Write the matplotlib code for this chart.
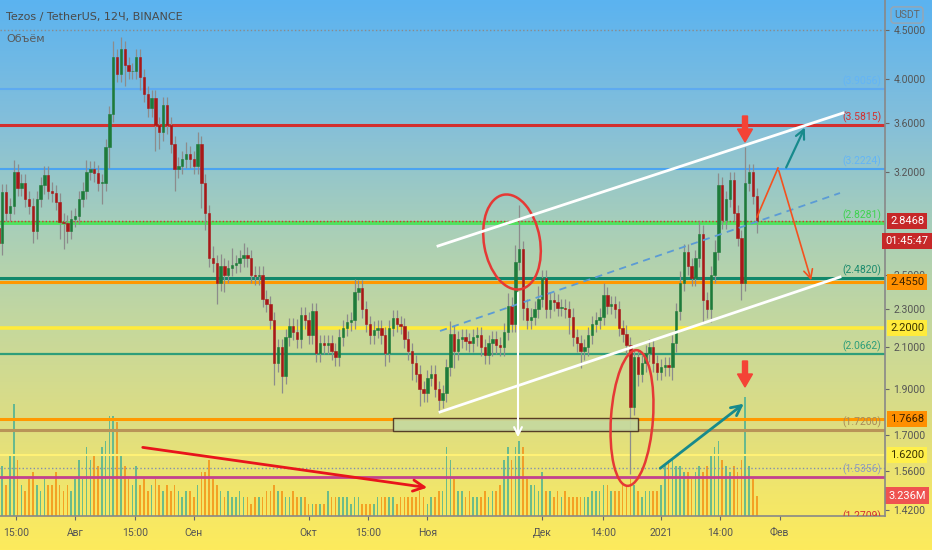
import numpy as np
import matplotlib
matplotlib.use('Agg')
import matplotlib.pyplot as plt
from matplotlib import patches, transforms
from matplotlib.colors import LinearSegmentedColormap
from matplotlib.ticker import FixedLocator, NullLocator, FuncFormatter

# дневные свечи начиная с 12 июля 2020 (день 0)
closes = [
    2.70, 3.05, 2.90, 2.95, 3.20, 3.08, 3.12, 3.00, 2.95, 2.78,
    3.00, 3.10, 3.18, 3.06, 3.04, 2.98, 2.84, 2.83, 2.78, 2.86,
    2.88, 3.00, 3.06, 3.20, 3.22, 3.19, 3.12, 3.12, 3.40, 3.68,
    4.22, 4.05, 4.30, 4.14, 4.08, 4.08, 4.22, 4.02, 3.86, 3.73,
    3.82, 3.58, 3.52, 3.76, 3.58, 3.42, 3.22, 3.25, 3.30, 3.34,
    3.30, 3.25, 3.42, 3.12, 2.90, 2.60, 2.57, 2.45, 2.55, 2.50,
    2.54, 2.56, 2.57, 2.60, 2.62, 2.60, 2.50, 2.49, 2.50, 2.36,
    2.33, 2.24, 2.02, 2.10, 1.96, 2.15, 2.21, 2.18, 2.14, 2.27,
    2.24, 2.16, 2.29, 2.07, 2.12, 2.11, 2.12, 2.08, 2.05, 2.15,
    2.20, 2.23, 2.24, 2.40, 2.42, 2.30, 2.22, 2.16, 2.19, 2.20,
    2.16, 2.07, 2.20, 2.25, 2.22, 2.21, 2.14, 2.08, 2.02, 1.97,
    1.90, 1.88, 1.95, 1.97, 1.90, 1.85, 1.88, 2.00, 2.17, 2.08,
    2.14, 2.15, 2.13, 2.12, 2.15, 2.16, 2.10, 2.06, 2.12, 2.14,
    2.11, 2.10, 2.18, 2.32, 2.22, 2.58, 2.66, 2.31, 2.24, 2.26,
    2.30, 2.36, 2.48, 2.30, 2.35, 2.34, 2.31, 2.31, 2.30, 2.26,
    2.15, 2.12, 2.08, 2.10, 2.16, 2.22, 2.24, 2.26, 2.38, 2.32,
    2.33, 2.30, 2.20, 2.17, 2.11, 1.82, 2.05, 1.97, 2.02, 2.07,
    2.10, 2.02, 1.98, 2.00, 2.01, 2.00, 2.12, 2.29, 2.45, 2.64,
    2.55, 2.48, 2.60, 2.76, 2.35, 2.30, 2.50, 2.64, 3.10, 2.85,
    3.00, 3.14, 2.90, 2.73, 2.45, 3.12, 3.20, 3.02, 2.8468,
]
first_open = 2.80

# тени свечей, в процентах
wick_up = [
    2, 2, 2, 2, 3, 2, 2, 2, 2, 2,
    2, 2, 2, 2, 2, 2, 2, 2, 2, 2,
    2, 2, 2, 3, 2, 2, 2, 2, 2, 2,
    4, 2, 3, 2, 2, 2, 2, 2, 2, 2,
    2, 2, 2, 2, 2, 2, 2, 2, 2, 3,
    2, 2, 3, 2, 2, 2, 3, 2, 3, 2,
    2, 4, 2, 2, 3, 2, 2, 2, 2, 2,
    2, 2, 2, 2, 2, 2, 2, 2, 3, 2,
    2, 2, 2, 2, 2, 2, 2, 2, 2, 2,
    2, 2, 2, 3, 2, 2, 2, 2, 2, 2,
    2, 2, 2, 2, 2, 2, 2, 2, 2, 2,
    2, 2, 2, 2, 2, 2, 2, 2, 3, 2,
    2, 2, 2, 2, 2, 2, 2, 2, 2, 2,
    2, 2, 2, 3, 2, 4, 11, 2, 2, 2,
    2, 3, 2, 2, 2, 2, 2, 2, 2, 2,
    2, 2, 2, 2, 2, 2, 2, 2, 3, 2,
    2, 2, 2, 2, 2, 2, 2, 2, 2, 2,
    2, 2, 2, 2, 2, 2, 2, 2, 3, 2,
    2, 2, 2, 3, 2, 2, 2, 3, 3, 2,
    2, 2, 2, 2, 2, 9, 2, 2, 2,
]
wick_dn = [
    5, 3, 2, 2, 2, 2, 2, 2, 2, 3,
    2, 2, 2, 2, 2, 2, 4, 6, 3, 2,
    2, 2, 2, 2, 2, 2, 2, 5, 2, 5,
    2, 2, 2, 5, 2, 2, 2, 3, 2, 2,
    2, 6, 4, 2, 2, 2, 5, 2, 2, 2,
    2, 2, 2, 6, 4, 2, 2, 5, 2, 4,
    2, 2, 2, 2, 2, 2, 2, 2, 2, 2,
    2, 2, 5, 2, 4, 2, 2, 2, 2, 2,
    2, 2, 2, 2, 2, 2, 2, 2, 2, 2,
    2, 2, 2, 2, 2, 2, 2, 2, 2, 2,
    2, 3, 2, 2, 2, 2, 2, 2, 4, 2,
    4, 2, 2, 2, 2, 3, 2, 2, 2, 4,
    2, 2, 2, 2, 2, 2, 2, 2, 2, 3,
    2, 2, 2, 2, 2, 2, 2, 3, 2, 2,
    2, 2, 2, 2, 2, 2, 2, 2, 2, 4,
    2, 2, 4, 2, 2, 2, 2, 2, 2, 2,
    2, 2, 2, 2, 2, 15, 2, 3, 2, 2,
    2, 2, 2, 2, 2, 2, 3, 2, 2, 2,
    2, 2, 2, 2, 5, 2, 3, 2, 2, 2,
    2, 2, 2, 2, 4, 2, 2, 2, 3,
]
# объём, млн
volumes = [
    17, 8, 5, 10, 18, 9, 5, 4, 6, 7,
    5, 4, 6, 5, 5, 7, 5, 4, 5, 4,
    6, 9, 6, 11, 9, 10, 8, 11, 12, 16,
    16, 15, 10, 8, 6, 5, 8, 5, 6, 4,
    5, 6, 5, 4, 5, 4, 5, 4, 3, 4,
    4, 3, 5, 7, 7, 9, 6, 5, 4, 3,
    4, 3, 3, 4, 3, 3, 2, 3, 3, 3,
    4, 4, 5, 4, 4, 3, 3, 4, 3, 3,
    3, 2, 2, 2, 2, 2, 4, 3, 3, 3,
    3, 3, 2, 3, 3, 2, 2, 2, 2, 3,
    3, 3, 3, 3, 2, 3, 3, 3, 3, 3,
    4, 3, 2, 3, 3, 4, 4, 11, 9, 6,
    4, 4, 3, 4, 3, 3, 3, 4, 3, 4,
    4, 5, 9, 11, 9, 11, 12, 11, 6, 5,
    5, 4, 7, 4, 4, 3, 4, 3, 4, 3,
    3, 3, 3, 3, 3, 4, 4, 4, 5, 5,
    4, 4, 4, 5, 5, 6, 5, 4, 3, 4,
    4, 4, 4, 5, 8, 9, 9, 8, 8, 7,
    7, 6, 7, 8, 7, 8, 10, 11, 12, 9,
    8, 7, 8, 7, 9, 19, 8, 6, 3.236,
]

tick_days = [4.6, 20, 35.7, 51, 81, 96.5, 112, 142, 157.9, 173, 188.4, 204]
tick_labels = ['15:00', 'Авг', '15:00', 'Сен', 'Окт', '15:00', 'Ноя', 'Дек',
               '14:00', '2021', '14:00', 'Фев']
price_ticks = [4.5, 4.0, 3.6, 3.2, 2.5, 2.3, 2.1, 1.9, 1.7, 1.56, 1.42]

# горизонтальные уровни
level_prices = [3.9056, 3.5815, 3.2224, 2.8281, 2.4820, 2.4550, 2.2000,
                2.0662, 1.7668, 1.7200, 1.6200, 1.5356]
level_colors = ['#5eaaf0', '#d32f2f', '#4ba3f0', '#4fe25e', '#12886a', '#ff9800',
                '#ffeb3b', '#2e9e7a', '#ff9800', '#b99458', '#fff176', '#c2418f']
level_widths = [1.5, 2.2, 1.5, 2.8, 2.2, 2.2, 2.6, 1.6, 2.2, 2.2, 1.5, 2.0]
tag_prices = [3.9056, 3.5815, 3.2224, 2.8281, 2.4820, 2.0662, 1.7200, 1.5356]
tag_colors = ['#64b5f6', '#d32f2f', '#64b5f6', '#3fd24f', '#1b8a6e', '#2e9e7a',
              '#a98a58', '#8e9bc0']
low_tag = 1.2709

# метки на ценовой шкале: цена, фон, цвет текста
box_prices = [2.8468, 2.4550, 2.2000, 1.7668, 1.6200]
box_colors = ['#c62828', '#ff8f00', '#ffeb3b', '#ff8f00', '#fff04a']
box_text = ['white', '#3a2200', '#3a3300', '#3a2200', '#3a3300']

W, H = 932, 550
fig = plt.figure(figsize=(W / 100, H / 100), dpi=100)

# фон-градиент
bg = fig.add_axes([0, 0, 1, 1], zorder=0)
cmap = LinearSegmentedColormap.from_list('tv', [
    (0.0, '#5bb3f0'), (0.22, '#84bfda'), (0.42, '#a9cfb8'),
    (0.6, '#c6d89c'), (0.76, '#dcdd84'), (0.9, '#f2e66a'), (1.0, '#fdeb5c')])
grad = np.linspace(0, 1, 256).reshape(-1, 1)
bg.imshow(grad, aspect='auto', cmap=cmap, extent=[0, 1, 0, 1], origin='upper')
bg.axis('off')

ax = fig.add_axes([0, 34 / H, 885 / W, 516 / H], zorder=2)
ax.patch.set_visible(False)
vax = ax.twinx()
vax.set_zorder(1)
vax.patch.set_visible(False)

days = np.arange(len(closes))
opens = [first_open] + closes[:-1]

# объём
vcols = ['#26a69a' if c >= o else '#f57c00' for o, c in zip(opens, closes)]
vax.bar(days, volumes, width=0.42, color=vcols, alpha=0.65)
vax.set_ylim(0, 82.6)
vax.set_yticks([])
for s in vax.spines.values():
    s.set_visible(False)

# свечи
highs = [max(o, c) * (1 + u / 100) for o, c, u in zip(opens, closes, wick_up)]
lows = [min(o, c) * (1 - d / 100) for o, c, d in zip(opens, closes, wick_dn)]
ax.vlines(days, lows, highs, color='#8c8c8c', lw=0.9, zorder=3)
ccols = ['#1e7b3a' if c >= o else '#a81818' for o, c in zip(opens, closes)]
bottoms = [min(o, c) for o, c in zip(opens, closes)]
heights = [max(abs(c - o), 0.004) for o, c in zip(opens, closes)]
ax.bar(days, heights, bottom=bottoms, width=0.62, color=ccols,
       edgecolor=ccols, lw=0.4, zorder=4)

# уровни
for p, c, w in zip(level_prices, level_colors, level_widths):
    ax.axhline(p, color=c, lw=w, zorder=2)
ax.axhline(4.5, color='#8a8a8a', lw=1, ls=':', zorder=2)
ax.axhline(1.57, color='#8090b0', lw=1, ls=':', zorder=2)
ax.axhline(closes[-1], color='#d32f2f', lw=1, ls=(0, (1, 1.5)), zorder=2)

for p, c in zip(tag_prices, tag_colors):
    ax.annotate('(%.4f)' % p, xy=(0.974, p), xycoords=('axes fraction', 'data'),
                xytext=(0, 1.5), textcoords='offset points', ha='center',
                va='bottom', color=c, fontsize=7.5, family='Roboto', zorder=5)

ax.set_yscale('log')
ax.set_ylim(1.399, 4.84)
ax.set_xlim(0.418, 231.5)

# нижняя метка уходит за край шкалы — видна только верхняя половина
t = ax.text(0.974, 1.399, '(%.4f)' % low_tag,
            transform=transforms.blended_transform_factory(ax.transAxes, ax.transData),
            ha='center', va='center', color='#d32f2f', fontsize=7.5,
            family='Roboto', zorder=5)
t.set_clip_box(ax.bbox)
t.set_clip_on(True)

ax.yaxis.tick_right()
ax.yaxis.set_major_locator(FixedLocator(price_ticks))
ax.yaxis.set_minor_locator(NullLocator())
ax.yaxis.set_major_formatter(FuncFormatter(lambda v, pos: '%.4f' % v))
ax.set_xticks(tick_days)
ax.set_xticklabels(tick_labels)
ax.tick_params(axis='both', colors='#666666', labelcolor='#555555', labelsize=7.5,
               length=3, width=0.8)
ax.tick_params(axis='y', pad=3)
ax.tick_params(axis='x', pad=6)
for lab in ax.get_xticklabels() + ax.get_yticklabels():
    lab.set_family('Roboto')
for side in ['left', 'top']:
    ax.spines[side].set_visible(False)
for side in ['right', 'bottom']:
    ax.spines[side].set_color('#888888')
    ax.spines[side].set_linewidth(1.2)

# метки на шкале цен
blend = transforms.blended_transform_factory(ax.transAxes, ax.transData)
for p, fc, tc in zip(box_prices, box_colors, box_text):
    ax.text(1.0249, p, '%.4f' % p, transform=blend, ha='center', va='center',
            color=tc, fontsize=8, family='Roboto', zorder=10,
            bbox=dict(boxstyle='square,pad=0.28', fc=fc, ec='none'))
ax.annotate('01:45:47', xy=(1.0249, closes[-1]), xycoords=blend,
            xytext=(0, -14.5), textcoords='offset points', ha='center',
            va='center', color='white', fontsize=8, family='Roboto', zorder=10,
            annotation_clip=False,
            bbox=dict(boxstyle='square,pad=0.28', fc='#c62828', ec='none'))
vblend = transforms.blended_transform_factory(vax.transAxes, vax.transData)
vax.text(1.0249, volumes[-1], '%.3fM' % volumes[-1], transform=vblend,
         ha='center', va='center', color='white', fontsize=8, family='Roboto',
         zorder=10, bbox=dict(boxstyle='square,pad=0.3', fc='#ef5350', ec='none'))

# рисунки поверх графика (в пикселях)
ov = fig.add_axes([0, 0, 1, 1], zorder=3)
ov.set_xlim(0, W)
ov.set_ylim(H, 0)
ov.axis('off')
ov.patch.set_visible(False)

ov.plot([438, 843], [246, 113], color='white', lw=2)
ov.plot([440, 840], [412, 277], color='white', lw=2)
ov.plot([440, 840], [331, 193], color='#5b9bd5', lw=1.3, ls=(0, (4, 3)))
ov.add_patch(patches.Rectangle((393, 418), 245, 13, fc='#c5d9a0', ec='#4a3020',
                               lw=1, alpha=0.9))
ov.annotate('', xy=(518, 440), xytext=(518, 290),
            arrowprops=dict(arrowstyle='->', color='white', lw=1.5,
                            mutation_scale=14))
ov.annotate('', xy=(430, 488), xytext=(140, 447),
            arrowprops=dict(arrowstyle='->', color='#e8141b', lw=2,
                            mutation_scale=20))
ov.annotate('', xy=(746, 402), xytext=(658, 470),
            arrowprops=dict(arrowstyle='->', color='#178a8c', lw=2,
                            mutation_scale=18))
ov.annotate('', xy=(806, 125), xytext=(785, 170),
            arrowprops=dict(arrowstyle='->', color='#178a8c', lw=1.6,
                            mutation_scale=16))
ov.plot([757, 778], [217, 168], color='#f4511e', lw=1.2)
ov.annotate('', xy=(812, 283), xytext=(778, 168),
            arrowprops=dict(arrowstyle='->', color='#f4511e', lw=1.2,
                            mutation_scale=16))
for y0 in [116, 361]:
    ov.add_patch(patches.FancyArrow(745, y0, 0, 26, width=5, head_width=15,
                                    head_length=13, length_includes_head=True,
                                    color='#f44336'))
ov.add_patch(patches.Ellipse((512, 242), 56, 96, angle=-10, fill=False,
                             ec='#e53935', lw=1.8))
ov.add_patch(patches.Ellipse((632, 418), 42, 136, angle=4, fill=False,
                             ec='#e53935', lw=1.8))

ov.text(6, 17, 'Tezos / TetherUS, 12Ч, BINANCE', color='#4a4a4a', fontsize=8,
        va='center', ha='left')
ov.text(6, 39, 'Объём', color='#5a5a5a', fontsize=8, va='center', ha='left')
ov.text(907, 15, 'USDT', color='#666666', fontsize=7.5, family='Roboto',
        ha='center', va='center',
        bbox=dict(boxstyle='round,pad=0.3', fc='none', ec='#9aa5b0', lw=1))

fig.savefig('out.png', dpi=100)
